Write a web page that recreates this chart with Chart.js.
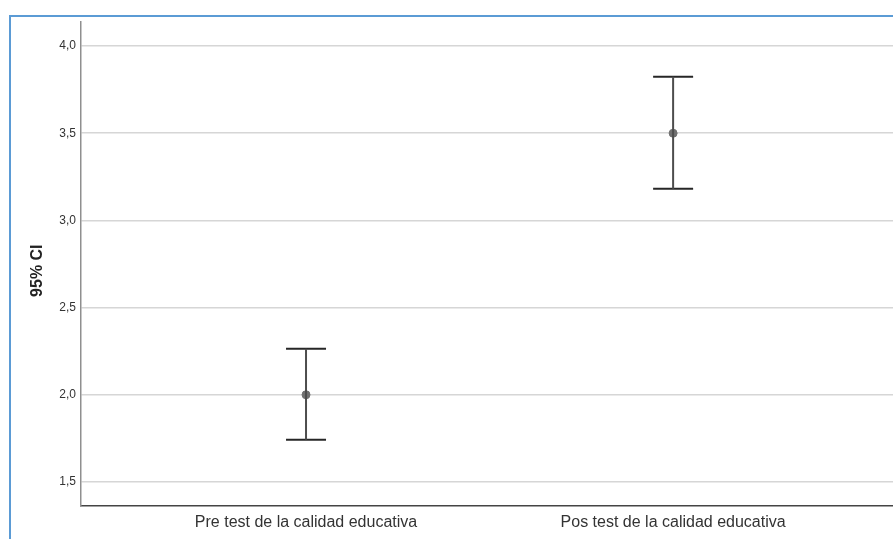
<!DOCTYPE html>
<html>
<head>
<meta charset="utf-8">
<script src="https://cdn.jsdelivr.net/npm/chart.js@4"></script>
<style>
    html, body { margin: 0; padding: 0; background: #fff; }
    #wrap { position: relative; width: 893px; height: 539px; overflow: hidden; }
    #frame {
        position: absolute; left: 9px; top: 15px; width: 900px; height: 540px;
        border-left: 2px solid #5b9bd5; border-top: 2px solid #5b9bd5;
    }
    #c { position: absolute; left: 0; top: 0; }
</style>
</head>
<body>
<div id="wrap">
    <div id="frame"></div>
    <!-- el gráfico original está recortado a la derecha -->
    <canvas id="c" width="915" height="539"></canvas>
</div>
<script>
// Intervalos de confianza al 95% (lectura del gráfico)
var categorias = ['Pre test de la calidad educativa', 'Pos test de la calidad educativa'];
var medias     = [2.00, 3.50];
var limInf     = [1.742, 3.182];
var limSup     = [2.264, 3.824];
var ticksY     = [1.5, 2.0, 2.5, 3.0, 3.5, 4.0];

var FONT = '"Liberation Sans", Arial, sans-serif';

// Construir los datasets a partir de los arreglos
var whiskers = [];
categorias.forEach(function (c, i) {
    whiskers.push({ x: i, y: limInf[i] });
    whiskers.push({ x: i, y: limSup[i] });
    whiskers.push({ x: i, y: null });
});
var caps = [];
categorias.forEach(function (c, i) {
    caps.push({ x: i, y: limInf[i] });
    caps.push({ x: i, y: limSup[i] });
});
var puntos = medias.map(function (m, i) { return { x: i, y: m }; });

new Chart(document.getElementById('c'), {
    type: 'scatter',
    data: {
        datasets: [
            {
                data: whiskers,
                showLine: true,
                spanGaps: false,
                borderColor: '#4d4d4d',
                borderWidth: 2,
                pointRadius: 0
            },
            {
                data: caps,
                pointStyle: 'line',
                pointRadius: 20,
                pointBorderWidth: 2,
                pointBorderColor: '#262626',
                showLine: false
            },
            {
                data: puntos,
                pointStyle: 'circle',
                pointRadius: 4,
                pointBackgroundColor: '#707070',
                pointBorderColor: '#707070',
                pointBorderWidth: 1,
                showLine: false
            }
        ]
    },
    options: {
        responsive: false,
        animation: false,
        events: [],
        layout: { padding: { top: 22, right: 0, left: 0, bottom: 0 } },
        plugins: {
            legend: { display: false },
            tooltip: { enabled: false }
        },
        scales: {
            x: {
                type: 'linear',
                min: -0.613,
                max: 1.599,
                afterBuildTicks: function (axis) {
                    axis.ticks = categorias.map(function (c, i) { return { value: i }; });
                },
                afterFit: function (axis) { axis.height = 33; },
                grid: { display: false, drawTicks: false },
                border: { color: '#444', width: 1.5 },
                ticks: {
                    padding: 7,
                    maxRotation: 0,
                    autoSkip: false,
                    color: '#333',
                    font: { family: FONT, size: 16 },
                    callback: function (v) { return categorias[v]; }
                }
            },
            y: {
                min: 1.362,
                max: 4.138,
                afterBuildTicks: function (axis) {
                    axis.ticks = ticksY.map(function (v) { return { value: v }; });
                },
                afterFit: function (axis) { axis.width = 81; },
                grid: { color: '#d6d6d6', lineWidth: 1.5, drawTicks: false },
                border: { color: '#8f8f8f', width: 1.5 },
                ticks: {
                    padding: 5,
                    color: '#333',
                    font: { family: FONT, size: 12 },
                    callback: function (v) { return v.toFixed(1).replace('.', ','); }
                },
                title: {
                    display: true,
                    text: '95% CI\u00a0\u00a0\u00a0',
                    color: '#222',
                    padding: { top: 28, bottom: 0 },
                    font: { family: FONT, size: 16, weight: 'bold' }
                }
            }
        }
    }
});
</script>
</body>
</html>
